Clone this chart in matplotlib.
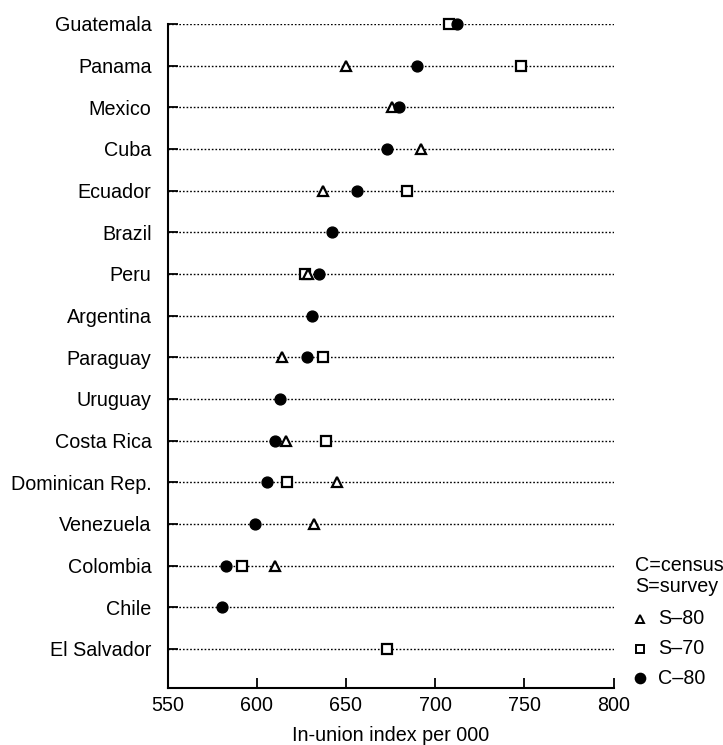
import numpy as np
import matplotlib
matplotlib.use("Agg")
import matplotlib.pyplot as plt

plt.rcParams['font.family'] = ['Liberation Sans', 'DejaVu Sans']

# data, top row first
countries = ['Guatemala', 'Panama', 'Mexico', 'Cuba', 'Ecuador', 'Brazil', 'Peru',
             'Argentina', 'Paraguay', 'Uruguay', 'Costa Rica', 'Dominican Rep.',
             'Venezuela', 'Colombia', 'Chile', 'El Salvador']
nan = np.nan
s80 = [nan, 650, 676, 692, 637, nan, 628.5, nan, 614, nan, 616.5, 645, 632, 610.5, nan, nan]
s70 = [708, 748, nan, nan, 684, nan, 627, nan, 637, nan, 639, 617, nan, 591.5, nan, 673]
c80 = [712, 690, 680, 673, 656, 642, 635, 631, 628, 613, 610, 606, 599, 582.5, 580.5, nan]
xticks = [550, 600, 650, 700, 750, 800]

n = len(countries)
ypos = np.arange(n)[::-1]
fs = 14.2

fig = plt.figure(figsize=(7.23, 7.45), dpi=100)
ax = fig.add_axes([0.2317, 0.0765, 0.617, 0.8913])

ax.hlines(ypos, 550, 800, colors='black', linestyles=(0, (1.2, 1.4)), linewidth=1.0, zorder=1)

ax.plot(s70, ypos, ls='none', marker='s', ms=7, mfc='white', mec='black', mew=1.6,
        clip_on=False, zorder=3)
ax.plot(s80, ypos, ls='none', marker='^', ms=7.2, mfc='white', mec='black', mew=1.6,
        clip_on=False, zorder=4)
ax.plot(c80, ypos, ls='none', marker='o', ms=7.8, mfc='black', mec='black',
        clip_on=False, zorder=5)

ax.set_xlim(550, 800)
ax.set_ylim(-0.94, n - 1)
ax.set_xticks(xticks)
ax.set_yticks(ypos)
ax.set_yticklabels(countries)
ax.tick_params(axis='both', direction='in', width=1.3, labelsize=fs)
ax.tick_params(axis='y', length=7, pad=11.5)
ax.tick_params(axis='x', length=7, pad=6)
for s in ['top', 'right']:
    ax.spines[s].set_visible(False)
for s in ['left', 'bottom']:
    ax.spines[s].set_linewidth(1.5)
ax.set_xlabel('In-union index per 000', fontsize=fs, labelpad=8)

# key on the right
ax.text(812, 2.0, 'C=census', fontsize=fs, va='center', ha='left', clip_on=False)
ax.text(812, 1.5, 'S=survey', fontsize=fs, va='center', ha='left', clip_on=False)
key = [('^', 'white', 'S\u201380', 0.72), ('s', 'white', 'S\u201370', 0.0),
       ('o', 'black', 'C\u201380', -0.7)]
for m, fc, lab, yy in key:
    ax.plot([815], [yy], ls='none', marker=m, ms=5.5 if m != 'o' else 7, mfc=fc,
            mec='black', mew=1.4, clip_on=False)
    ax.text(825, yy, lab, fontsize=fs, va='center', ha='left', clip_on=False)

fig.savefig('out.png', dpi=100)
